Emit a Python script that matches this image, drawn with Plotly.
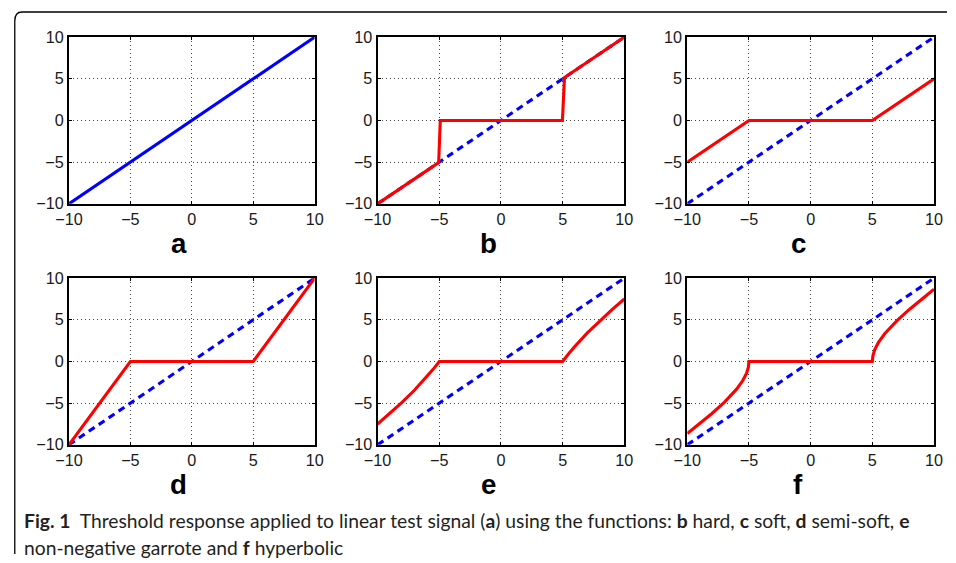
import plotly.graph_objects as go

W, H = 956, 563
# Mapping from reference-page pixels to figure pixels (measured from the
# rendered screenshots: displayed = 12 + 0.977*x, 9 + 0.964*y).
SX, OX = 0.977, 12.0
SY, OY = 0.964, 9.0

# ---- data ----
ticks = [-10, -5, 0, 5, 10]
panel_labels = ["a", "b", "c", "d", "e", "f"]

x_lin = [-10, 10]
y_lin = [-10, 10]

x_hard = [-10, -5.05, -4.92, 4.98, 5.15, 10]
y_hard = [-10, -5.05, 0, 0, 5.15, 10]

x_soft = [-10, -5, 5, 10]
y_soft = [-5, 0, 0, 5]

x_semi = [-10, -5, 5, 10]
y_semi = [-10, 0, 0, 10]

x_garrote = [-10, -9, -8, -7, -6, -5.5, -5, 5, 5.5, 6, 7, 8, 9, 10]
y_garrote = [-7.5, -6.22, -4.88, -3.43, -1.83, -0.95, 0, 0, 0.95, 1.83, 3.43, 4.88, 6.22, 7.5]

x_hyper = [-10, -9, -8, -7, -6, -5.5, -5.2, -5.05, -5, 5, 5.05, 5.2, 5.5, 6, 7, 8, 9, 10]
y_hyper = [-8.66, -7.48, -6.24, -4.9, -3.32, -2.29, -1.43, -0.71, 0, 0, 0.71, 1.43, 2.29, 3.32, 4.9, 6.24, 7.48, 8.66]

red_series = [None, (x_hard, y_hard), (x_soft, y_soft), (x_semi, y_semi),
              (x_garrote, y_garrote), (x_hyper, y_hyper)]

caption1 = ("<b>Fig. 1</b>  Threshold response applied to linear test signal (<b>a</b>) using the "
            "functions: <b>b</b> hard, <b>c</b> soft, <b>d</b> semi-soft, <b>e</b>")
caption2 = "non-negative garrote and <b>f</b> hyperbolic"


def fx(x):
    return (x - OX) / SX


def fy(y):
    return (y - OY) / SY


def px(x):
    return fx(x) / W


def py(y):
    return 1 - fy(y) / H


# ---- layout geometry (reference pixels) ----
col_px = [(67, 313), (376, 623), (686, 933)]
row_px = [(37, 203), (277, 443)]
label_x_px = [177, 487, 797]
label_y_px = [243, 483]

fig = go.Figure()
layout = dict(
    width=W, height=H, margin=dict(l=0, r=0, t=0, b=0),
    paper_bgcolor="white", plot_bgcolor="white", showlegend=False,
    annotations=[], shapes=[],
)

tickfont = dict(family="Liberation Sans, Arial, sans-serif", size=16.2, color="#1a1a1a")

for i in range(6):
    r, c = divmod(i, 3)
    n = "" if i == 0 else str(i + 1)
    xa, ya = "x" + n, "y" + n
    xd = [px(col_px[c][0]), px(col_px[c][1])]
    yd = [py(row_px[r][1]), py(row_px[r][0])]
    common = dict(
        range=[-10, 10], tickvals=ticks, showgrid=True, gridcolor="#444444",
        griddash="1px,3px", gridwidth=1, zeroline=False, showline=True,
        linecolor="black", linewidth=2, mirror="allticks", ticks="inside",
        ticklen=3, tickcolor="black", tickfont=tickfont, fixedrange=True,
    )
    layout["xaxis" + n] = dict(common, domain=xd, anchor=ya)
    layout["yaxis" + n] = dict(common, domain=yd, anchor=xa)

    if i == 0:
        fig.add_trace(go.Scatter(x=x_lin, y=y_lin, mode="lines", xaxis=xa, yaxis=ya,
                                 line=dict(color="#0000FF", width=3.1), cliponaxis=False))
    else:
        fig.add_trace(go.Scatter(x=x_lin, y=y_lin, mode="lines", xaxis=xa, yaxis=ya,
                                 line=dict(color="#0000FF", width=3.1, dash="7px,5px"),
                                 cliponaxis=False))
        xs, ys = red_series[i]
        fig.add_trace(go.Scatter(x=xs, y=ys, mode="lines", xaxis=xa, yaxis=ya,
                                 line=dict(color="#FF0000", width=3.1), cliponaxis=False))

    layout["annotations"].append(dict(
        text="<b>%s</b>" % panel_labels[i], xref="paper", yref="paper",
        x=px(label_x_px[c]), y=py(label_y_px[r]), xanchor="center", yanchor="middle",
        showarrow=False, font=dict(family="Liberation Sans, Arial, sans-serif", size=27.7,
                                   color="black")))

capfont = dict(family="Lato, sans-serif", size=19.3, color="#231F20")
layout["annotations"].append(dict(text=caption1, xref="paper", yref="paper",
                                  x=px(20), y=py(518), xanchor="left", yanchor="middle",
                                  showarrow=False, font=capfont))
layout["annotations"].append(dict(text=caption2, xref="paper", yref="paper",
                                  x=px(20), y=py(545), xanchor="left", yanchor="middle",
                                  showarrow=False, font=capfont))

# frame with rounded top-left corner
x0 = 0.8 / W
path = "M %f,%f L %f,%f Q %f,%f %f,%f L %f,%f" % (
    x0, 0.0, x0, py(21), x0, py(12), px(20), py(12), 1.0, py(12))
layout["shapes"].append(dict(type="path", path=path, xref="paper", yref="paper",
                             line=dict(color="black", width=1.3)))

fig.update_layout(**layout)
fig.write_html("out.html")
